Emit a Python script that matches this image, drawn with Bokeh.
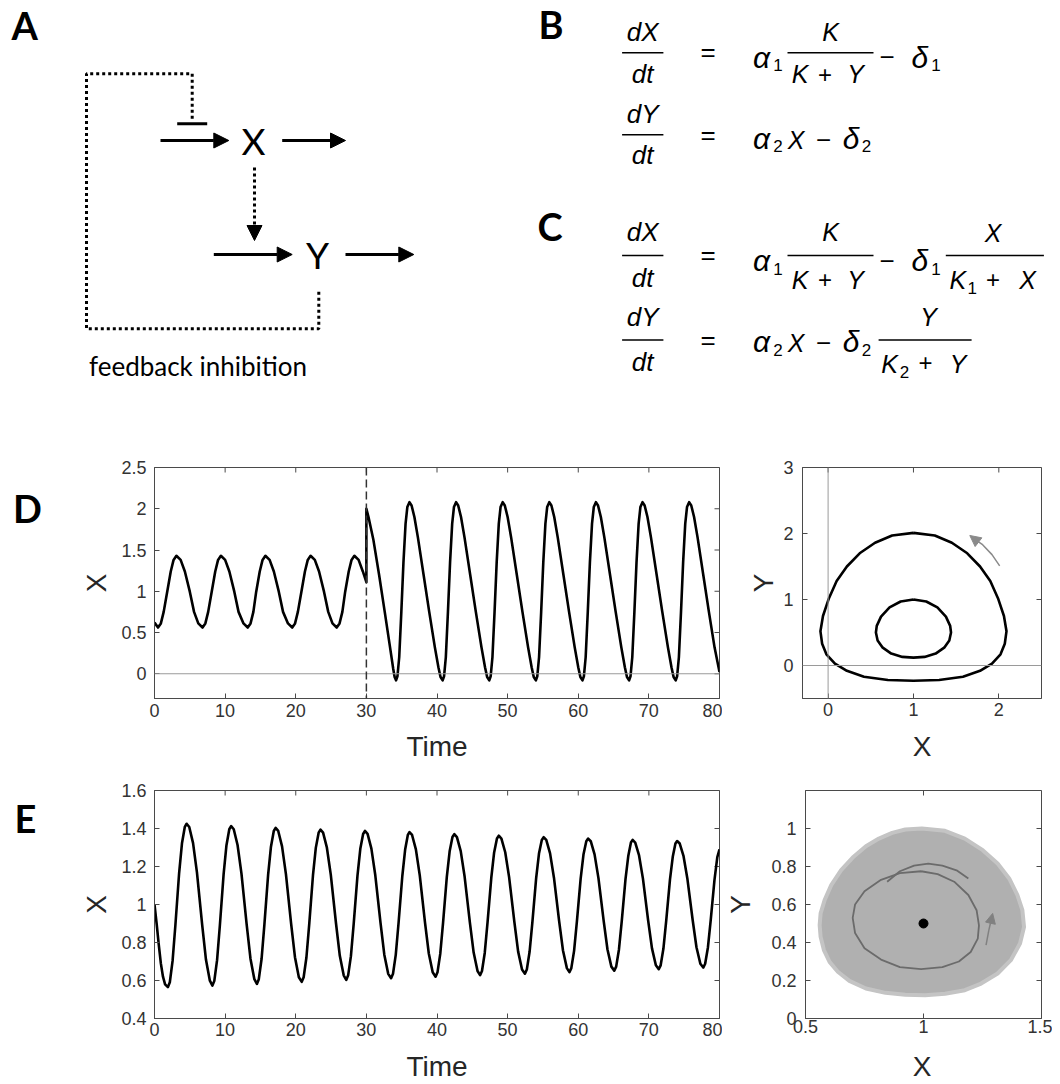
import math
from bokeh.plotting import figure
from bokeh.layouts import column, row
from bokeh.models import (Range1d, FixedTicker, PrintfTickFormatter, Span, Arrow, NormalHead)
from bokeh.core.properties import value
from bokeh.embed import file_html
from bokeh.resources import INLINE

# ------------------------------------------------------------------ data
# Panel D (left): X over time; input switched at t = 30
d_switch_time = 30
d_time_before = [0, 0.5, 0.9, 1.3, 1.8, 2.3, 2.7, 3.1, 3.7, 4.3, 5.0, 5.6, 6.2, 6.8,
                 7.2, 7.6, 8.1, 8.6, 9.0, 9.4, 10.0, 10.6, 11.3, 11.9, 12.6, 13.2,
                 13.6, 14.0, 14.4, 14.9, 15.3, 15.7, 16.3, 16.9, 17.6, 18.2, 18.9, 19.5,
                 19.9, 20.3, 20.8, 21.3, 21.7, 22.1, 22.7, 23.3, 24.0, 24.6, 25.2, 25.8,
                 26.2, 26.6, 27.0, 27.5, 27.9, 28.3, 28.9, 29.5, 30.0]
d_x_before = [0.62, 0.56, 0.61, 0.75, 0.995, 1.24, 1.38, 1.43, 1.38, 1.24, 0.995, 0.75, 0.61, 0.56,
              0.61, 0.75, 0.995, 1.24, 1.38, 1.43, 1.38, 1.24, 0.995, 0.75, 0.61, 0.56,
              0.61, 0.75, 0.995, 1.24, 1.38, 1.43, 1.38, 1.24, 0.995, 0.75, 0.61, 0.56,
              0.61, 0.75, 0.995, 1.24, 1.38, 1.43, 1.38, 1.24, 0.995, 0.75, 0.61, 0.56,
              0.61, 0.75, 0.995, 1.24, 1.38, 1.43, 1.38, 1.24, 1.11]
d_time_after = [30.0, 30.3, 31.0, 31.8, 32.6, 33.3, 33.8, 34.0,
                34.2, 34.4, 34.65, 34.95, 35.25, 35.55, 35.8, 36.1, 36.4, 36.8, 37.3, 38.1, 38.9, 39.7, 40.2, 40.5,
                40.8, 41.0, 41.25, 41.55, 41.85, 42.15, 42.4, 42.7, 43.0, 43.4, 43.9, 44.7, 45.5, 46.3, 46.8, 47.1,
                47.4, 47.6, 47.85, 48.15, 48.45, 48.75, 49.0, 49.3, 49.6, 50.0, 50.5, 51.3, 52.1, 52.9, 53.4, 53.7,
                54.0, 54.2, 54.45, 54.75, 55.05, 55.35, 55.6, 55.9, 56.2, 56.6, 57.1, 57.9, 58.7, 59.5, 60.0, 60.3,
                60.6, 60.8, 61.05, 61.35, 61.65, 61.95, 62.2, 62.5, 62.8, 63.2, 63.7, 64.5, 65.3, 66.1, 66.6, 66.9,
                67.2, 67.4, 67.65, 67.95, 68.25, 68.55, 68.8, 69.1, 69.4, 69.8, 70.3, 71.1, 71.9, 72.7, 73.2, 73.5,
                73.8, 74.0, 74.25, 74.55, 74.85, 75.15, 75.4, 75.7, 76.0, 76.4, 76.9, 77.7, 78.5, 79.3, 80.0]
d_x_after = [2.0, 1.90, 1.62, 1.20, 0.75, 0.35, 0.06, -0.04,
             -0.08, -0.03, 0.20, 0.75, 1.35, 1.82, 2.02, 2.08, 2.04, 1.90, 1.65, 1.20, 0.75, 0.32, 0.08, -0.04,
             -0.08, -0.03, 0.20, 0.75, 1.35, 1.82, 2.02, 2.08, 2.04, 1.90, 1.65, 1.20, 0.75, 0.32, 0.08, -0.04,
             -0.08, -0.03, 0.20, 0.75, 1.35, 1.82, 2.02, 2.08, 2.04, 1.90, 1.65, 1.20, 0.75, 0.32, 0.08, -0.04,
             -0.08, -0.03, 0.20, 0.75, 1.35, 1.82, 2.02, 2.08, 2.04, 1.90, 1.65, 1.20, 0.75, 0.32, 0.08, -0.04,
             -0.08, -0.03, 0.20, 0.75, 1.35, 1.82, 2.02, 2.08, 2.04, 1.90, 1.65, 1.20, 0.75, 0.32, 0.08, -0.04,
             -0.08, -0.03, 0.20, 0.75, 1.35, 1.82, 2.02, 2.08, 2.04, 1.90, 1.65, 1.20, 0.75, 0.32, 0.08, -0.04,
             -0.08, -0.03, 0.20, 0.75, 1.35, 1.82, 2.02, 2.08, 2.04, 1.90, 1.65, 1.20, 0.75, 0.32, 0.02]

# Panel D (right): phase-plane orbits (X, Y)
d_outer_x = [1.00, 0.75, 0.55, 0.37, 0.22, 0.10, 0.01, -0.06, -0.09, -0.07, -0.02, 0.08, 0.22, 0.42,
             0.70, 1.00, 1.30, 1.58, 1.78, 1.92, 2.02, 2.07, 2.09, 2.06, 1.99, 1.90, 1.78, 1.63,
             1.45, 1.25, 1.00]
d_outer_y = [2.01, 1.97, 1.86, 1.70, 1.50, 1.28, 1.02, 0.75, 0.52, 0.33, 0.17, 0.03, -0.08, -0.17,
             -0.22, -0.23, -0.22, -0.17, -0.08, 0.03, 0.17, 0.33, 0.52, 0.75, 1.02, 1.28, 1.50, 1.70,
             1.86, 1.97, 2.01]
d_inner_x = [1.00, 0.85, 0.72, 0.62, 0.57, 0.56, 0.58, 0.64, 0.74, 0.87, 1.00, 1.13, 1.26, 1.36,
             1.42, 1.44, 1.43, 1.38, 1.28, 1.15, 1.00]
d_inner_y = [1.00, 0.97, 0.88, 0.74, 0.60, 0.50, 0.38, 0.27, 0.18, 0.13, 0.12, 0.13, 0.18, 0.27,
             0.38, 0.50, 0.60, 0.74, 0.88, 0.97, 1.00]
d_dir_x = [2.01, 1.92, 1.81, 1.71, 1.66]
d_dir_y = [1.51, 1.68, 1.83, 1.92, 1.97]

# Panel E (left): damped oscillation of X
e_time = [0, 0.3, 0.6, 0.9, 1.2, 1.5, 1.9,
          2.17, 2.56, 2.96, 3.49, 3.89, 4.29, 4.55,
          4.92, 5.46, 6.01, 6.74, 7.29, 7.84, 8.2,
          8.47, 8.86, 9.26, 9.79, 10.19, 10.59, 10.85,
          11.22, 11.76, 12.31, 13.04, 13.59, 14.14, 14.5,
          14.77, 15.16, 15.56, 16.09, 16.49, 16.89, 17.15,
          17.52, 18.06, 18.61, 19.34, 19.89, 20.44, 20.85,
          21.12, 21.51, 21.91, 22.44, 22.84, 23.24, 23.5,
          23.87, 24.41, 24.96, 25.69, 26.24, 26.79, 27.15,
          27.42, 27.81, 28.21, 28.74, 29.14, 29.54, 29.8,
          30.17, 30.71, 31.26, 31.99, 32.54, 33.09, 33.5,
          33.77, 34.16, 34.56, 35.09, 35.49, 35.87, 36.1,
          36.47, 37.01, 37.56, 38.29, 38.84, 39.39, 39.8,
          40.07, 40.46, 40.86, 41.39, 41.79, 42.19, 42.45,
          42.82, 43.36, 43.91, 44.64, 45.19, 45.74, 46.1,
          46.37, 46.76, 47.16, 47.69, 48.09, 48.49, 48.75,
          49.12, 49.66, 50.21, 50.94, 51.49, 52.04, 52.45,
          52.72, 53.11, 53.51, 54.04, 54.44, 54.84, 55.1,
          55.47, 56.01, 56.56, 57.29, 57.84, 58.39, 58.75,
          59.02, 59.41, 59.81, 60.34, 60.74, 61.14, 61.4,
          61.77, 62.31, 62.86, 63.59, 64.14, 64.69, 65.1,
          65.37, 65.76, 66.16, 66.69, 67.09, 67.46, 67.7,
          68.07, 68.61, 69.16, 69.89, 70.44, 70.99, 71.4,
          71.67, 72.06, 72.46, 72.99, 73.39, 73.76, 74.0,
          74.37, 74.91, 75.46, 76.19, 76.74, 77.29, 77.7,
          77.97, 78.36, 78.76, 79.29, 79.69, 80.0]
e_x = [1.0, 0.90, 0.79, 0.69, 0.62, 0.58, 0.565,
       0.591, 0.703, 0.892, 1.167, 1.322, 1.408, 1.425,
       1.408, 1.323, 1.169, 0.897, 0.709, 0.599, 0.573,
       0.598, 0.707, 0.892, 1.161, 1.312, 1.396, 1.413,
       1.396, 1.313, 1.164, 0.898, 0.715, 0.607, 0.582,
       0.607, 0.713, 0.894, 1.157, 1.304, 1.387, 1.403,
       1.387, 1.306, 1.160, 0.901, 0.723, 0.617, 0.593,
       0.617, 0.721, 0.897, 1.154, 1.298, 1.378, 1.394,
       1.378, 1.299, 1.157, 0.904, 0.730, 0.627, 0.603,
       0.627, 0.728, 0.901, 1.152, 1.293, 1.371, 1.387,
       1.372, 1.294, 1.155, 0.907, 0.736, 0.635, 0.612,
       0.635, 0.735, 0.904, 1.150, 1.289, 1.366, 1.381,
       1.366, 1.290, 1.153, 0.909, 0.742, 0.643, 0.620,
       0.643, 0.740, 0.905, 1.145, 1.280, 1.355, 1.370,
       1.355, 1.281, 1.147, 0.910, 0.747, 0.650, 0.628,
       0.650, 0.745, 0.907, 1.142, 1.274, 1.347, 1.362,
       1.347, 1.275, 1.144, 0.912, 0.752, 0.658, 0.636,
       0.658, 0.751, 0.909, 1.139, 1.268, 1.340, 1.354,
       1.340, 1.269, 1.141, 0.914, 0.758, 0.665, 0.644,
       0.665, 0.756, 0.911, 1.136, 1.263, 1.333, 1.347,
       1.333, 1.264, 1.139, 0.916, 0.763, 0.673, 0.652,
       0.673, 0.762, 0.913, 1.134, 1.257, 1.326, 1.340,
       1.326, 1.258, 1.136, 0.918, 0.769, 0.680, 0.660,
       0.680, 0.768, 0.916, 1.132, 1.253, 1.321, 1.334,
       1.321, 1.254, 1.134, 0.921, 0.775, 0.688, 0.668,
       0.688, 0.774, 0.919, 1.130, 1.249, 1.29]

# Panel E (right): region swept by the inward spiral, guide curves, fixed point
e_spiral_x = [0.993, 0.923, 0.867, 0.811, 0.756, 0.700, 0.651, 0.609, 0.581, 0.564, 0.560, 0.564,
              0.578, 0.602, 0.637, 0.686, 0.756, 0.839, 0.923, 1.007, 1.091, 1.175, 1.244, 1.314,
              1.370, 1.409, 1.426, 1.419, 1.398, 1.363, 1.314, 1.251, 1.175, 1.091, 0.993]
e_spiral_y = [1.000, 0.995, 0.977, 0.947, 0.907, 0.847, 0.781, 0.702, 0.623, 0.553, 0.491, 0.430,
              0.360, 0.298, 0.246, 0.198, 0.158, 0.135, 0.125, 0.123, 0.130, 0.149, 0.184, 0.237,
              0.307, 0.395, 0.482, 0.570, 0.649, 0.737, 0.816, 0.886, 0.947, 0.988, 1.000]
e_inner_x = [0.99, 0.90, 0.82, 0.75, 0.71, 0.70, 0.71, 0.75, 0.82, 0.90, 0.99, 1.08, 1.15, 1.20,
             1.23, 1.235, 1.225, 1.19, 1.13, 1.06, 0.99]
e_inner_y = [0.775, 0.765, 0.73, 0.67, 0.60, 0.53, 0.45, 0.37, 0.31, 0.27, 0.26, 0.27, 0.30, 0.35,
             0.42, 0.49, 0.57, 0.65, 0.72, 0.76, 0.775]
e_arc_x = [0.846, 0.90, 0.96, 1.02, 1.08, 1.14, 1.19]
e_arc_y = [0.72, 0.775, 0.805, 0.815, 0.805, 0.78, 0.737]
e_dir_x = [1.265, 1.277, 1.293]
e_dir_y = [0.386, 0.465, 0.553]
e_fixed_x = [1.0]
e_fixed_y = [0.5]

# ticks
time_ticks = [0, 10, 20, 30, 40, 50, 60, 70, 80]
d_x_ticks = [0, 0.5, 1, 1.5, 2, 2.5]
d_ph_xticks = [0, 1, 2]
d_ph_yticks = [0, 1, 2, 3]
e_x_ticks = [0.4, 0.6, 0.8, 1, 1.2, 1.4, 1.6]
e_ph_xticks = [0.5, 1, 1.5]
e_ph_yticks = [0, 0.2, 0.4, 0.6, 0.8, 1]

# ------------------------------------------------------------------ helpers
AX = "#4a4a4a"
LAB = "#333333"
AXLAB = "#262626"
SANS = "Liberation Sans"
LETTER = "Lato"


def style(p, xt, yt, xls, yls, yas):
    p.xgrid.visible = False
    p.ygrid.visible = False
    p.outline_line_color = AX
    p.outline_line_width = 1
    for ax, ticks, ls in ((p.xaxis[0], xt, xls), (p.yaxis[0], yt, yls)):
        ax.ticker = FixedTicker(ticks=ticks)
        ax.formatter = PrintfTickFormatter(format="%g")
        ax.major_tick_in = 5
        ax.major_tick_out = 0
        ax.minor_tick_in = 0
        ax.minor_tick_out = 0
        ax.axis_line_color = AX
        ax.major_tick_line_color = AX
        ax.major_label_text_font = SANS
        ax.major_label_text_font_size = "18px"
        ax.major_label_text_color = LAB
        ax.major_label_standoff = ls
    ya = p.yaxis[0]
    ya.axis_label_text_font = SANS
    ya.axis_label_text_font_size = "28px"
    ya.axis_label_text_font_style = "normal"
    ya.axis_label_text_color = AXLAB
    ya.axis_label_standoff = yas
    # inward tick marks on the top and right edges of the box (half of each dash is clipped)
    xr, yr = p.x_range, p.y_range
    p.scatter(xt, [yr.end] * len(xt), marker="dash", size=10, angle=math.pi / 2,
              line_color=AX, line_width=1)
    p.scatter([xr.end] * len(yt), yt, marker="dash", size=10, angle=0,
              line_color=AX, line_width=1)


def txt(p, x, y, t, size, style_="normal", font=SANS, align="center",
        baseline="alphabetic", color="#000000"):
    # positions are given as baselines; draw with a centred baseline for a stable placement
    if baseline == "alphabetic":
        y = y - (0.38 if font == LETTER else 0.35) * size
        baseline = "middle"
    p.text(x=[x], y=[y], text=[t], text_font=value(font),
           text_font_size=value(f"{size}px"), text_font_style=value(style_),
           text_align=value(align), text_baseline=value(baseline), text_color=color)


def canvas(w, h, y0):
    c = figure(width=w, height=h, x_range=Range1d(0, w), y_range=Range1d(y0 + h, y0),
               x_axis_type=None, y_axis_type=None, toolbar_location=None, title=None,
               output_backend="svg", min_border=0, outline_line_color=None)
    c.grid.visible = False
    return c


# ------------------------------------------------------------------ top: A, B, C  (y 0..428)
top = canvas(1052, 428, 0)

txt(top, 11, 39.3, "A", 38, "bold", LETTER, "left")
txt(top, 538, 38.3, "B", 38, "bold", LETTER, "left")
txt(top, 537, 240, "C", 38, "bold", LETTER, "left")

# diagram A
top.line([191.7, 191.7, 86, 86, 318.3, 318.3], [118.3, 73.3, 73.3, 328.3, 328.3, 288.3],
         line_width=3, line_dash="3 3", line_color="black")
top.line([176.7, 206.7], [123.3, 123.3], line_width=3, line_color="black")
for (x0, y0, x1, y1, dash) in [(160, 140, 228.3, 140, "solid"), (281.7, 140, 345, 140, "solid"),
                               (254, 167, 254, 240, "3 3"), (213.3, 254, 291.7, 254, "solid"),
                               (345, 254, 413.3, 254, "solid")]:
    top.add_layout(Arrow(end=NormalHead(size=15, fill_color="black", line_color="black"),
                         x_start=x0, y_start=y0, x_end=x1, y_end=y1,
                         line_width=3, line_color="black", line_dash=dash))
txt(top, 253, 140, "X", 37, "normal", LETTER, baseline="middle")
txt(top, 317, 254, "Y", 37, "normal", LETTER, baseline="middle")
txt(top, 197.5, 375, "feedback inhibition", 26, "normal", LETTER)

# equations B and C  (text, x centre, baseline y, font size, style)
I, N = "italic", "normal"
eq_tokens = [
    # B, line 1
    ("dX", 642.2, 40.6, 26, I), ("dt", 642.2, 82.6, 26, I), ("=", 707.7, 60.5, 26, N),
    ("α", 761, 67.1, 30, I), ("1", 777.4, 70.6, 17, N),
    ("K", 830, 40.6, 25, I),
    ("K", 799.6, 82.6, 25, I), ("+", 824.5, 82.2, 24, N), ("Y", 855, 82.6, 25, I),
    ("−", 886.7, 65.6, 26, N), ("δ", 919.4, 67.1, 30, I), ("1", 935.6, 70.6, 17, N),
    # B, line 2
    ("dY", 642.2, 122.2, 26, I), ("dt", 642.2, 163.6, 26, I), ("=", 707.7, 143.1, 26, N),
    ("α", 761, 148, 30, I), ("2", 777.4, 151.5, 17, N), ("X", 795.5, 148, 25, I),
    ("−", 823, 148.3, 26, N), ("δ", 850.6, 148, 30, I), ("2", 866, 151.5, 17, N),
    # C, line 1
    ("dX", 642.2, 240.6, 26, I), ("dt", 642.2, 286.1, 26, I), ("=", 707.7, 263.9, 26, N),
    ("α", 761, 270.6, 30, I), ("1", 777.4, 274, 17, N),
    ("K", 830, 240.6, 25, I),
    ("K", 799.6, 287.8, 25, I), ("+", 824.5, 287.4, 24, N), ("Y", 855, 287.8, 25, I),
    ("−", 886.7, 269.1, 26, N), ("δ", 919.4, 270.6, 30, I), ("1", 935.6, 274, 17, N),
    ("X", 992.5, 241.3, 25, I),
    ("K", 957.3, 287.8, 25, I), ("1", 971.8, 293, 17, N), ("+", 992.5, 287.4, 24, N),
    ("X", 1027, 287.8, 25, I),
    # C, line 2
    ("dY", 642.2, 325.7, 26, I), ("dt", 642.2, 370.5, 26, I), ("=", 707.7, 348.3, 26, N),
    ("α", 761, 351.5, 30, I), ("2", 777.4, 355, 17, N), ("X", 795.5, 351.5, 25, I),
    ("−", 823, 351.7, 26, N), ("δ", 850.6, 351.5, 30, I), ("2", 866, 355, 17, N),
    ("Y", 928, 325.7, 25, I),
    ("K", 889, 372.2, 25, I), ("2", 904, 377.3, 17, N), ("+", 925, 370, 24, N),
    ("Y", 957.5, 372.2, 25, I),
]
for t, x, y, s, st in eq_tokens:
    txt(top, x, y, t, s, st)
bars = [(621.6, 662.9, 52.3), (787, 873, 52.3), (621.6, 662.9, 134.3),
        (621.6, 662.9, 255.1), (787, 873, 255.1), (945.3, 1043.4, 255.1),
        (621.6, 662.9, 339.5), (878.1, 971.1, 339.5)]
top.segment(x0=[b[0] for b in bars], x1=[b[1] for b in bars], y0=[b[2] for b in bars],
            y1=[b[2] for b in bars], line_width=1.5, line_color="#000000")

# ------------------------------------------------------------------ D  (row spans y 428..729)
d_letter = canvas(60, 301, 428)
txt(d_letter, 12.5, 495.7, "D", 38, "bold", LETTER, "left")

dl = figure(width=662, height=301, x_range=Range1d(0, 80), y_range=Range1d(-0.3, 2.5),
            min_border_left=94, min_border_right=3, min_border_top=39, min_border_bottom=30,
            toolbar_location=None, output_backend="svg", y_axis_label="X", title=None)
style(dl, time_ticks, d_x_ticks, xls=5, yls=8, yas=6)
dl.add_layout(Span(location=0, dimension="width", line_color="#9a9a9a", line_width=1))
dl.add_layout(Span(location=d_switch_time, dimension="height", line_color="#333333",
                   line_width=1.5, line_dash="8 4"))
dl.line(d_time_before + d_time_after, d_x_before + d_x_after, line_width=2.6,
        line_color="black", line_join="round")

dr = figure(width=330, height=301, x_range=Range1d(-0.3, 2.5), y_range=Range1d(-0.5, 3),
            min_border_left=80, min_border_right=11, min_border_top=39, min_border_bottom=31,
            toolbar_location=None, output_backend="svg", y_axis_label="Y", title=None)
style(dr, d_ph_xticks, d_ph_yticks, xls=4, yls=9, yas=1)
dr.add_layout(Span(location=0, dimension="width", line_color="#9a9a9a", line_width=1))
dr.add_layout(Span(location=0, dimension="height", line_color="#9a9a9a", line_width=1))
dr.line(d_outer_x, d_outer_y, line_width=2.6, line_color="black", line_join="round")
dr.line(d_inner_x, d_inner_y, line_width=2.6, line_color="black", line_join="round")
dr.line(d_dir_x[:-1], d_dir_y[:-1], line_width=1.5, line_color="#8a8a8a")
dr.add_layout(Arrow(end=NormalHead(size=11, fill_color="#8a8a8a", line_color="#8a8a8a"),
                    x_start=d_dir_x[-2], y_start=d_dir_y[-2], x_end=d_dir_x[-1], y_end=d_dir_y[-1],
                    line_width=1.5, line_color="#8a8a8a"))

# x-axis titles of row D (strip y 729..762)
d_titles = canvas(1052, 33, 729)
txt(d_titles, 436.5, 746, "Time", 28, "normal", SANS, baseline="middle", color=AXLAB)
txt(d_titles, 921.5, 746, "X", 28, "normal", SANS, baseline="middle", color=AXLAB)

# ------------------------------------------------------------------ E  (row spans y 762..1050)
e_letter = canvas(60, 288, 762)
txt(e_letter, 14, 811, "E", 38, "bold", LETTER, "left")

el = figure(width=662, height=288, x_range=Range1d(0, 80), y_range=Range1d(0.4, 1.6),
            min_border_left=94, min_border_right=3, min_border_top=28, min_border_bottom=28,
            toolbar_location=None, output_backend="svg", y_axis_label="X", title=None)
style(el, time_ticks, e_x_ticks, xls=4, yls=8, yas=6)
el.line(e_time, e_x, line_width=2.6, line_color="black", line_join="round")

er = figure(width=330, height=288, x_range=Range1d(0.5, 1.5), y_range=Range1d(0, 1.2),
            min_border_left=80, min_border_right=11, min_border_top=28, min_border_bottom=32,
            toolbar_location=None, output_backend="svg", y_axis_label="Y", title=None)
style(er, e_ph_xticks, e_ph_yticks, xls=1, yls=9, yas=12)
er.patch(e_spiral_x, e_spiral_y, fill_color="#b0b0b0", line_color="#c4c4c4", line_width=4,
         line_join="round")
er.line(e_inner_x, e_inner_y, line_width=1.8, line_color="#6b6b6b")
er.line(e_arc_x, e_arc_y, line_width=1.8, line_color="#6b6b6b")
er.line(e_dir_x[:-1], e_dir_y[:-1], line_width=1.5, line_color="#808080")
er.add_layout(Arrow(end=NormalHead(size=10, fill_color="#808080", line_color="#808080"),
                    x_start=e_dir_x[-2], y_start=e_dir_y[-2], x_end=e_dir_x[-1], y_end=e_dir_y[-1],
                    line_width=1.5, line_color="#808080"))
er.scatter(e_fixed_x, e_fixed_y, size=9, fill_color="black", line_color="black")

# x-axis titles of row E (strip y 1050..1082)
e_titles = canvas(1052, 32, 1050)
txt(e_titles, 436.5, 1066, "Time", 28, "normal", SANS, baseline="middle", color=AXLAB)
txt(e_titles, 921.5, 1066, "X", 28, "normal", SANS, baseline="middle", color=AXLAB)

layout = column(top, row(d_letter, dl, dr), d_titles, row(e_letter, el, er), e_titles)
open("out.html", "w").write(file_html(layout, INLINE))
